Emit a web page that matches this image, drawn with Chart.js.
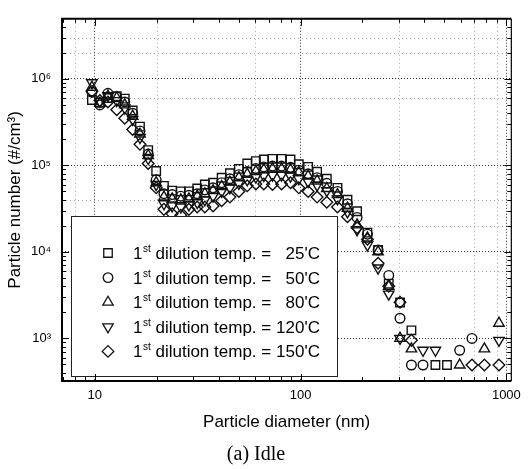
<!DOCTYPE html>
<html>
<head>
<meta charset="utf-8">
<script src="https://cdn.jsdelivr.net/npm/chart.js@4.4.0/dist/chart.umd.min.js"></script>
<style>
  html, body { margin: 0; padding: 0; background: #fff; }
  #wrap { width: 528px; height: 469px; }
</style>
</head>
<body>
<div id="wrap"><canvas id="psdChart" width="528" height="469"></canvas></div>
<script>
// particle diameter channels (nm)
const diameters = [9.7, 10.6, 11.6, 12.8, 14.0, 15.3, 16.6, 18.2, 19.9, 21.7,
  23.8, 26.2, 28.7, 31.5, 34.3, 37.6, 41.4, 45.4, 50.2, 55.1,
  60.7, 66.3, 73.1, 80.9, 89.4, 98.1, 108.9, 120.4, 134.2, 151.2,
  169.1, 188.3, 211.4, 238.1, 268.3, 304.4, 345.8, 393.6, 452.2, 514.8,
  593.3, 680.8, 782.1, 920.5];

// particle number (#/cm3), null = not plotted (zero count)
const temp25 = [5.7e5, 5.3e5, 6.0e5, 6.3e5, 5.9e5, 4.3e5, 2.8e5, 1.5e5, 8.6e4, 5.8e4,
  5.1e4, 5.0e4, 5.0e4, 5.4e4, 6.0e4, 6.3e4, 7.2e4, 8.1e4, 9.1e4, 1.05e5,
  1.12e5, 1.17e5, 1.19e5, 1.19e5, 1.17e5, 1.03e5, 9.6e4, 8.45e4, 7.0e4, 5.5e4,
  4.0e4, 2.95e4, 1.67e4, 1.05e4, 4300, 2600, 1240, null, 493, 493,
  null, null, null, null];
const temp50 = [7.0e5, 5.0e5, 6.8e5, 6.2e5, 5.4e5, 4.0e5, 2.5e5, 1.35e5, 6.8e4, 4.7e4,
  4.6e4, 4.4e4, 4.5e4, 4.7e4, 5.2e4, 5.5e4, 6.3e4, 7.0e4, 7.8e4, 8.5e4,
  9.2e4, 9.6e4, 9.8e4, 9.8e4, 9.5e4, 8.8e4, 8.0e4, 7.2e4, 6.2e4, 5.0e4,
  3.6e4, 2.5e4, 1.6e4, 1.05e4, 5350, 1710, 493, 493, null, null,
  730, 1000, null, null];
const temp80 = [8.0e5, 5.2e5, 6.3e5, 6.0e5, 5.0e5, 3.7e5, 2.3e5, 1.3e5, 6.3e4, 4.3e4,
  4.1e4, 4.0e4, 4.1e4, 4.4e4, 4.7e4, 5.1e4, 5.7e4, 6.4e4, 7.2e4, 7.9e4,
  8.5e4, 8.9e4, 9.1e4, 9.1e4, 8.9e4, 8.3e4, 7.5e4, 6.6e4, 5.4e4, 4.6e4,
  3.2e4, 2.05e4, 1.45e4, 1.0e4, 4000, 1000, 757, null, null, null,
  493, null, 757, 1500];
const temp120 = [9.0e5, 5.5e5, 6.4e5, 5.6e5, 4.6e5, 3.4e5, 2.1e5, 1.2e5, 6.0e4, 3.6e4,
  3.4e4, 3.3e4, 3.5e4, 3.7e4, 4.0e4, 4.4e4, 5.0e4, 5.5e4, 6.2e4, 6.8e4,
  7.3e4, 7.6e4, 7.7e4, 7.7e4, 7.5e4, 7.0e4, 6.5e4, 5.9e4, 5.1e4, 4.1e4,
  2.9e4, 1.8e4, 1.2e4, 6500, 3250, 1000, null, 730, 730, null,
  null, null, null, 950];
const temp150 = [7.2e5, 5.6e5, 5.4e5, 4.4e5, 3.5e5, 2.6e5, 1.75e5, 1.05e5, 5.5e4, 3.1e4,
  2.75e4, 2.65e4, 3.1e4, 3.3e4, 3.3e4, 3.4e4, 3.9e4, 4.3e4, 5.0e4, 5.8e4,
  6.1e4, 6.1e4, 6.0e4, 6.1e4, 6.3e4, 5.5e4, 5.0e4, 4.3e4, 3.75e4, 3.3e4,
  2.55e4, 1.9e4, 1.4e4, 7400, 4000, 2620, 950, null, null, null,
  null, 493, 493, 493];

const tempLabels = ["25'C", "50'C", "80'C", "120'C", "150'C"];
const xTickValues = [10, 100, 1000];
const yTickValues = [1e3, 1e4, 1e5, 1e6];

const sansFont = "'Liberation Sans', Arial, Helvetica, sans-serif";
const sup = { 0: '\u2070', 1: '\u00b9', 2: '\u00b2', 3: '\u00b3', 4: '\u2074', 5: '\u2075', 6: '\u2076' };

// marker looks per series, same order as the series
const markers = [
  { pointStyle: 'rect', pointRadius: 6, pointRotation: 0 },
  { pointStyle: 'circle', pointRadius: 4.8, pointRotation: 0 },
  { pointStyle: 'triangle', pointRadius: 6, pointRotation: 0 },
  { pointStyle: 'triangle', pointRadius: 6, pointRotation: 180 },
  { pointStyle: 'rectRot', pointRadius: 5.8, pointRotation: 0 }
];

function toPoints(values) {
  const pts = [];
  values.forEach(function (v, i) {
    if (v !== null) pts.push({ x: diameters[i], y: v });
  });
  return pts;
}

const seriesList = [temp25, temp50, temp80, temp120, temp150];
const datasets = seriesList.map(function (vals, i) {
  return Object.assign({
    label: '1st dilution temp. = ' + tempLabels[i],
    data: toPoints(vals),
    showLine: false,
    borderColor: '#111',
    backgroundColor: 'rgba(0,0,0,0)',
    pointBorderWidth: 1.4,
    pointHoverRadius: 0
  }, markers[i]);
});

const minorGridX = [8, 20, 60, 300, 700, 900];
const minorGridY = [3e6, 2e6, 6e5, 4e4, 2e4, 6e3];

const frameAndLegend = {
  id: 'frameAndLegend',
  beforeDatasetsDraw(chart) {
    const { ctx, chartArea: a, scales: { x, y } } = chart;
    ctx.save();
    ctx.strokeStyle = 'rgba(0,0,0,0.35)';
    ctx.lineWidth = 1;
    ctx.setLineDash([1, 3]);
    minorGridX.forEach(function (v) {
      const px = Math.round(x.getPixelForValue(v)) + 0.5;
      ctx.beginPath(); ctx.moveTo(px, a.top); ctx.lineTo(px, a.bottom); ctx.stroke();
    });
    minorGridY.forEach(function (v) {
      const py = Math.round(y.getPixelForValue(v)) + 0.5;
      ctx.beginPath(); ctx.moveTo(a.left, py); ctx.lineTo(a.right, py); ctx.stroke();
    });
    ctx.restore();
  },
  afterDatasetsDraw(chart) {
    const { ctx, chartArea: a, scales: { x, y } } = chart;
    ctx.save();

    // legend box inside the plot
    const box = { left: 71, top: 216, right: 337, bottom: 376 };
    ctx.setLineDash([]);
    ctx.fillStyle = '#fff';
    ctx.fillRect(box.left, box.top, box.right - box.left, box.bottom - box.top);
    ctx.strokeStyle = '#222';
    ctx.lineWidth = 1;
    ctx.strokeRect(box.left + 0.5, box.top + 0.5, box.right - box.left, box.bottom - box.top);

    chart.data.datasets.forEach(function (ds, i) {
      const cy = 253 + i * 24.6;
      ctx.strokeStyle = '#111';
      ctx.fillStyle = 'rgba(0,0,0,0)';
      ctx.lineWidth = 1.3;
      Chart.helpers.drawPoint(ctx, {
        pointStyle: ds.pointStyle, rotation: ds.pointRotation,
        radius: ds.pointRadius, borderWidth: 1.3
      }, 108, cy);

      ctx.fillStyle = '#000';
      ctx.textBaseline = 'alphabetic';
      ctx.textAlign = 'left';
      const base = cy + 6;
      let tx = 133;
      ctx.font = '17px ' + sansFont;
      ctx.fillText('1', tx, base);
      tx += ctx.measureText('1').width + 0.5;
      ctx.font = '10px ' + sansFont;
      ctx.fillText('st', tx, base - 7);
      tx += ctx.measureText('st').width;
      ctx.font = '17px ' + sansFont;
      ctx.fillText(' dilution temp. =', tx, base);
      ctx.textAlign = 'right';
      ctx.fillText(tempLabels[i], 320, base);
    });

    // frame
    ctx.strokeStyle = '#000';
    ctx.lineWidth = 2;
    ctx.beginPath();
    ctx.moveTo(a.right, a.top); ctx.lineTo(a.left, a.top);
    ctx.lineTo(a.left, a.bottom); ctx.lineTo(a.right, a.bottom);
    ctx.stroke();
    ctx.lineWidth = 1.2;
    ctx.beginPath(); ctx.moveTo(a.right, a.top); ctx.lineTo(a.right, a.bottom); ctx.stroke();

    // inward ticks
    ctx.lineWidth = 1;
    for (let e = 0; e <= 3; e++) {
      for (let k = 1; k <= 9; k++) {
        const v = k * Math.pow(10, e);
        if (v < x.min || v > x.max) continue;
        const px = Math.round(x.getPixelForValue(v)) + 0.5;
        const len = k === 1 ? 7 : 4;
        ctx.beginPath();
        ctx.moveTo(px, a.bottom); ctx.lineTo(px, a.bottom - len);
        ctx.moveTo(px, a.top); ctx.lineTo(px, a.top + len);
        ctx.stroke();
      }
    }
    for (let e = 2; e <= 6; e++) {
      for (let k = 1; k <= 9; k++) {
        const v = k * Math.pow(10, e);
        if (v < y.min || v > y.max) continue;
        const py = Math.round(y.getPixelForValue(v)) + 0.5;
        const len = k === 1 ? 7 : 4;
        ctx.beginPath();
        ctx.moveTo(a.left, py); ctx.lineTo(a.left + len, py);
        ctx.moveTo(a.right, py); ctx.lineTo(a.right - len, py);
        ctx.stroke();
      }
    }
    ctx.restore();
  }
};

const ctx = document.getElementById('psdChart').getContext('2d');
new Chart(ctx, {
  type: 'scatter',
  data: { datasets: datasets },
  plugins: [frameAndLegend],
  options: {
    responsive: false,
    animation: false,
    layout: { padding: { left: 0, right: 16, top: 7, bottom: 0 } },
    plugins: {
      legend: { display: false },
      tooltip: { enabled: false },
      title: {
        display: true,
        position: 'bottom',
        text: '(a) Idle',
        color: '#000',
        font: { family: "'Liberation Serif', 'Times New Roman', serif", size: 20, weight: 'normal' },
        padding: { top: 0, bottom: 2 }
      }
    },
    scales: {
      x: {
        type: 'logarithmic',
        min: 6.94,
        max: 1057,
        afterFit: function (s) { s.height = 62; },
        afterBuildTicks: function (s) { s.ticks = xTickValues.map(function (v) { return { value: v }; }); },
        ticks: {
          callback: function (v) { return String(v); },
          padding: 7,
          maxRotation: 0,
          autoSkip: false,
          color: '#000',
          font: { family: sansFont, size: 13 }
        },
        grid: { drawTicks: false, color: 'rgba(0,0,0,0.8)', lineWidth: 1 },
        border: { display: false, dash: [1, 2] },
        title: {
          display: true,
          text: 'Particle diameter (nm)',
          color: '#000',
          font: { family: sansFont, size: 17 },
          padding: { top: 0, bottom: 10 }
        }
      },
      y: {
        type: 'logarithmic',
        min: 322,
        max: 4.94e6,
        afterFit: function (s) { s.width = 62; },
        afterBuildTicks: function (s) { s.ticks = yTickValues.map(function (v) { return { value: v }; }); },
        ticks: {
          callback: function (v) { return '10' + sup[Math.round(Math.log10(v))]; },
          padding: 11,
          color: '#000',
          font: { family: sansFont, size: 13 }
        },
        grid: { drawTicks: false, color: 'rgba(0,0,0,0.8)', lineWidth: 1 },
        border: { display: false, dash: [1, 2] },
        title: {
          display: true,
          text: 'Particle number (#/cm\u00b3)',
          color: '#000',
          font: { family: sansFont, size: 17 },
          padding: { top: 5, bottom: 0 }
        }
      }
    }
  }
});
</script>
</body>
</html>
